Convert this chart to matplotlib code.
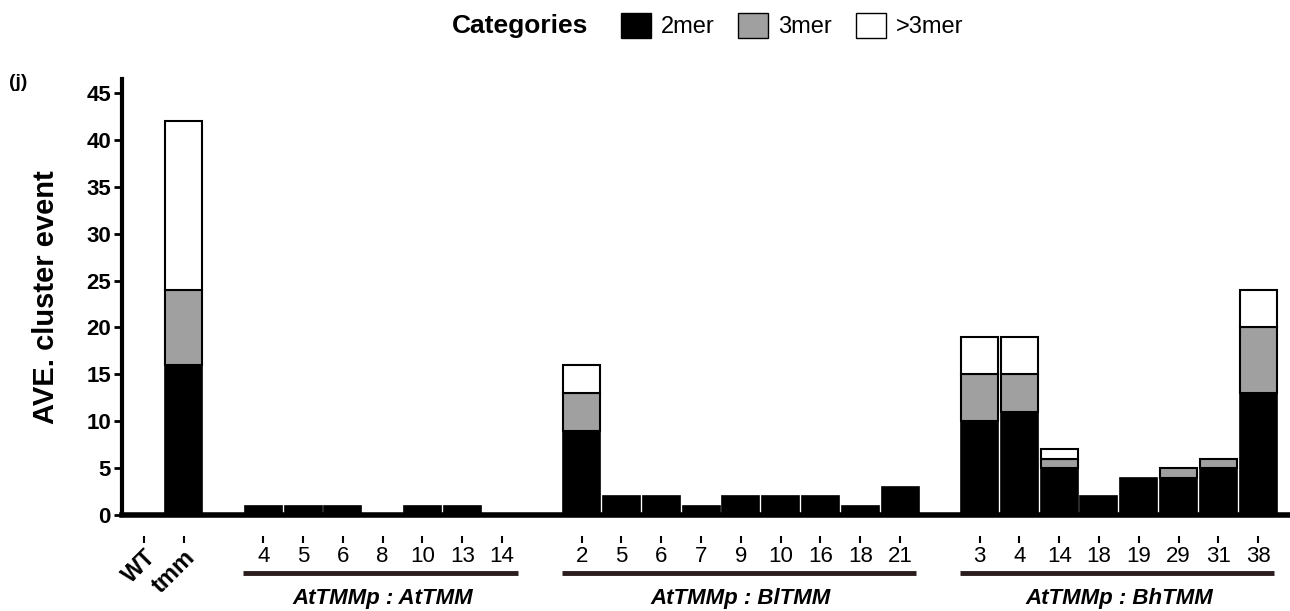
import numpy as np
import matplotlib.pyplot as plt
from matplotlib.patches import Patch

plt.rcParams['font.family'] = ['Liberation Sans', 'DejaVu Sans']

# categories (slot order), blank slots are gaps between groups
labels = ['WT', 'tmm', '',
          '4', '5', '6', '8', '10', '13', '14', '',
          '2', '5', '6', '7', '9', '10', '16', '18', '21', '',
          '3', '4', '14', '18', '19', '29', '31', '38']
mer2 = [0, 16, 0,
        1, 1, 1, 0, 1, 1, 0, 0,
        9, 2, 2, 1, 2, 2, 2, 1, 3, 0,
        10, 11, 5, 2, 4, 4, 5, 13]
mer3 = [0, 8, 0,
        0, 0, 0, 0, 0, 0, 0, 0,
        4, 0, 0, 0, 0, 0, 0, 0, 0, 0,
        5, 4, 1, 0, 0, 1, 1, 7]
mer_more = [0, 18, 0,
            0, 0, 0, 0, 0, 0, 0, 0,
            3, 0, 0, 0, 0, 0, 0, 0, 0, 0,
            4, 4, 1, 0, 0, 0, 0, 4]
groups = ['AtTMMp : AtTMM', 'AtTMMp : BlTMM', 'AtTMMp : BhTMM']
group_slots = [(3, 9), (11, 19), (21, 28)]

x = np.arange(len(labels))
mer2 = np.array(mer2)
mer3 = np.array(mer3)
mer_more = np.array(mer_more)

fig = plt.figure(figsize=(12.9, 6.11), dpi=100)
ax = fig.add_axes([0.0946, 0.157, 0.9054, 0.714])

w = 0.93
keep = np.array([l != '' for l in labels])
ax.bar(x[keep], mer2[keep], w, color='black', edgecolor='black', lw=1.2)
m = keep & (mer3 > 0)
ax.bar(x[m], mer3[m], w, bottom=mer2[m], color='#a0a0a0', edgecolor='black', lw=1.5)
m = keep & (mer_more > 0)
ax.bar(x[m], mer_more[m], w, bottom=(mer2 + mer3)[m], color='white', edgecolor='black', lw=1.5)

ax.set_xlim(-0.55, 28.8)
ax.set_ylim(0, 46.5)
ax.set_yticks(range(0, 46, 5))
ax.tick_params(axis='y', length=6, width=2, labelsize=16, pad=2)
for t in ax.get_yticklabels():
    t.set_fontweight('bold')

for s in ['top', 'right']:
    ax.spines[s].set_visible(False)
ax.spines['left'].set_linewidth(3)
ax.spines['bottom'].set_position(('outward', 15))
ax.spines['bottom'].set_color('none')
ax.axhline(0, color='black', lw=4, clip_on=False, zorder=5)

ax.set_xticks(x[keep])
ax.set_xticklabels([l for l in labels if l != ''], fontsize=16)
ax.tick_params(axis='x', length=5, width=1.5, color='black', pad=2)
for t in ax.get_xticklabels()[:2]:
    t.set_rotation(45)
    t.set_ha('right')
    t.set_rotation_mode('anchor')
    t.set_fontweight('bold')
    t.set_fontsize(17)

ax.set_ylabel('AVE. cluster event', fontsize=21, fontweight='bold')
ax.yaxis.set_label_coords(-0.053, 0.5)

# group underlines and names
for (a, b), g in zip(group_slots, groups):
    ax.plot([a - 0.5, b + 0.4], [-6.2, -6.2], color='#2b1d1d', lw=3.5,
            clip_on=False, solid_capstyle='butt')
    ax.text((a + b) / 2, -8.9, g, ha='center', va='center', fontsize=16,
            fontweight='bold', style='italic')

fig.text(0.007, 0.858, '(j)', fontsize=14, fontweight='bold')
fig.text(0.403, 0.958, 'Categories', fontsize=19, fontweight='bold', ha='center', va='center')
handles = [Patch(facecolor='black', edgecolor='black', label='2mer'),
           Patch(facecolor='#a0a0a0', edgecolor='black', label='3mer'),
           Patch(facecolor='white', edgecolor='black', label='>3mer')]
fig.legend(handles=handles, ncol=3, loc='center', bbox_to_anchor=(0.614, 0.958),
           frameon=False, fontsize=17, handlelength=1.27, handleheight=1.27,
           columnspacing=1.0, handletextpad=0.42)

fig.savefig('out.png', dpi=100)
